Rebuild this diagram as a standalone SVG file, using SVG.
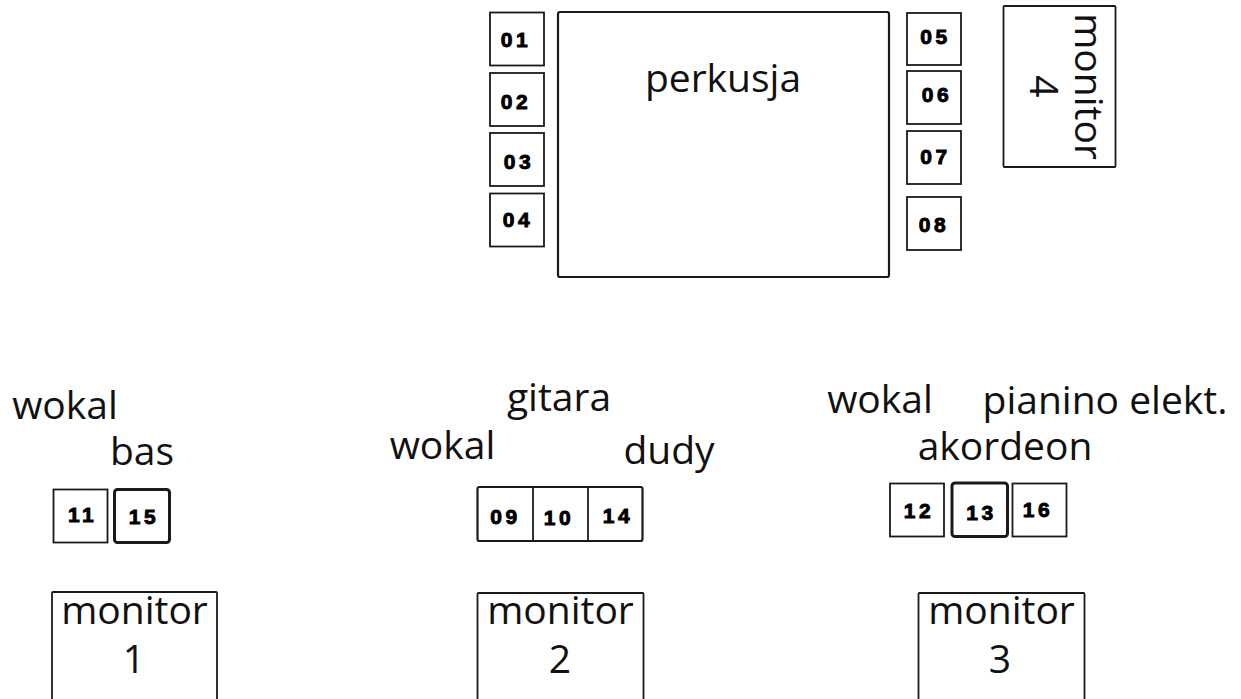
<svg xmlns="http://www.w3.org/2000/svg" width="1241" height="699" viewBox="0 0 1241 699">
<style>
.bx{fill:#fff;stroke:#1a1a1a;stroke-width:1.8}
.bt{fill:#fff;stroke:#1a1a1a;stroke-width:3}
.big{fill:#fff;stroke:#1a1a1a;stroke-width:2.2}
.lbl{font-family:"Open Sans","Noto Sans",sans-serif;font-size:39px;fill:#111;text-anchor:middle}
.num{font-family:"Liberation Sans",Arial,sans-serif;font-weight:bold;font-size:21px;letter-spacing:3.5px;fill:#000;stroke:#000;stroke-width:0.9;text-anchor:middle}
</style>
<rect width="1241" height="699" fill="#fff"/>
<g id="perkusja">
<rect class="big" x="558" y="12" width="331" height="265" rx="2"/>
<text class="lbl" x="723" y="92">perkusja</text>
</g>
<g id="ch01"><rect class="bx" x="490" y="12.5" width="54" height="53"/><text class="num" x="516" y="47">01</text></g>
<g id="ch02"><rect class="bx" x="490" y="73" width="54" height="53"/><text class="num" x="516" y="109">02</text></g>
<g id="ch03"><rect class="bx" x="490" y="133" width="54" height="53"/><text class="num" x="519" y="169">03</text></g>
<g id="ch04"><rect class="bx" x="490" y="193.5" width="54" height="53"/><text class="num" x="518" y="227">04</text></g>
<g id="ch05"><rect class="bx" x="907" y="13" width="54" height="52"/><text class="num" x="935.5" y="44">05</text></g>
<g id="ch06"><rect class="bx" x="907" y="71" width="54" height="53"/><text class="num" x="937" y="102">06</text></g>
<g id="ch07"><rect class="bx" x="907" y="131" width="54" height="53"/><text class="num" x="935.5" y="164">07</text></g>
<g id="ch08"><rect class="bx" x="907" y="197" width="54" height="53"/><text class="num" x="934" y="231.5">08</text></g>
<g id="monitor4">
<rect class="bx" x="1003.5" y="6" width="112" height="161" rx="1"/>
<text class="lbl" transform="translate(1075,86.5) rotate(90)">monitor</text>
<text class="lbl" transform="translate(1030,86.5) rotate(90)">4</text>
</g>
<g id="grp-left">
<text class="lbl" x="65" y="419">wokal</text>
<text class="lbl" x="142" y="465">bas</text>
</g>
<g id="ch11"><rect class="bx" x="53.5" y="489.5" width="54" height="53"/><text class="num" x="82.5" y="522">11</text></g>
<g id="ch15"><rect class="bt" x="114.5" y="489.5" width="55" height="53" rx="3"/><text class="num" x="144" y="524">15</text></g>
<g id="grp-mid">
<text class="lbl" x="559" y="411">gitara</text>
<text class="lbl" x="442.5" y="459">wokal</text>
<text class="lbl" x="669" y="464">dudy</text>
</g>
<g id="ch09-10-14">
<rect class="big" x="477.5" y="487" width="165" height="54" rx="2"/>
<line class="bx" x1="533" y1="487" x2="533" y2="541"/>
<line class="bx" x1="588" y1="487" x2="588" y2="541"/>
<text class="num" x="505.5" y="524">09</text>
<text class="num" x="559" y="525">10</text>
<text class="num" x="618" y="523">14</text>
</g>
<g id="grp-right">
<text class="lbl" x="880" y="413">wokal</text>
<text class="lbl" x="1105" y="414">pianino elekt.</text>
<text class="lbl" x="1005" y="460">akordeon</text>
</g>
<g id="ch12"><rect class="bx" x="890" y="483.5" width="54" height="53"/><text class="num" x="919" y="518">12</text></g>
<g id="ch13"><rect class="bt" x="952" y="483" width="55.5" height="53.5" rx="3"/><text class="num" x="981.5" y="520">13</text></g>
<g id="ch16"><rect class="bx" x="1012.5" y="483.5" width="54" height="53"/><text class="num" x="1038" y="517">16</text></g>
<g id="monitor1">
<rect class="bx" x="52" y="592" width="165" height="130" rx="1"/>
<text class="lbl" x="134.5" y="624">monitor</text>
<text class="lbl" x="134" y="673">1</text>
</g>
<g id="monitor2">
<rect class="bx" x="477.5" y="593" width="166" height="130" rx="1"/>
<text class="lbl" x="560.5" y="624">monitor</text>
<text class="lbl" x="560" y="673">2</text>
</g>
<g id="monitor3">
<rect class="bx" x="918.5" y="593" width="166" height="130" rx="1"/>
<text class="lbl" x="1001.5" y="624">monitor</text>
<text class="lbl" x="1000" y="673">3</text>
</g>
<g id="connectors"></g>
</svg>
